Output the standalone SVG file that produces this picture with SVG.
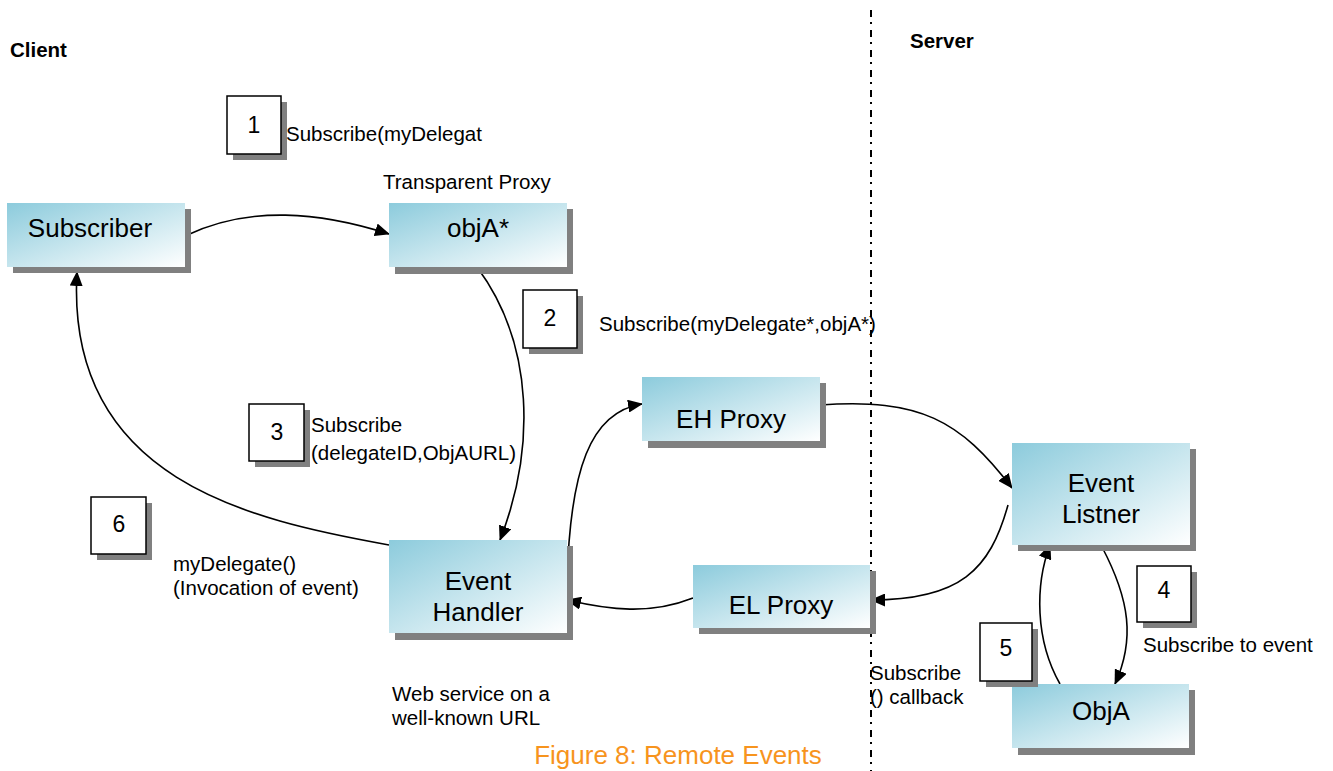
<svg xmlns="http://www.w3.org/2000/svg" width="1333" height="771" viewBox="0 0 1333 771">
<style>
.shadow{fill:#808080}
.node{fill:url(#g)}
.nt{font-family:"Liberation Sans",Arial,sans-serif;font-size:26px;fill:#000;text-anchor:middle}
.lbl{font-family:"Liberation Sans",Arial,sans-serif;font-size:20.5px;fill:#000}
.hdr{font-family:"Liberation Sans",Arial,sans-serif;font-size:20.5px;font-weight:bold;fill:#000}
.num{fill:#fff;stroke:#000;stroke-width:1.5}
.numt{font-family:"Liberation Sans",Arial,sans-serif;font-size:23px;fill:#000;text-anchor:middle}
.conn{fill:none;stroke:#000;stroke-width:1.6;marker-end:url(#arr)}
</style>
<defs>
<linearGradient id="g" x1="0" y1="0" x2="1" y2="1">
<stop offset="0" stop-color="#8ccbdc"/>
<stop offset="1" stop-color="#ffffff"/>
</linearGradient>
<marker id="arr" viewBox="0 0 15 13" refX="14" refY="6.5" markerWidth="15" markerHeight="13" markerUnits="userSpaceOnUse" orient="auto">
<path d="M0,0 L15,6.5 L0,13 z" fill="#000"/>
</marker>
</defs>
<rect width="1333" height="771" fill="#fff"/>
<line x1="871" y1="10" x2="871" y2="771" stroke="#000" stroke-width="2" stroke-dasharray="7 5 2 6"/>
<text class="hdr" x="10" y="57">Client</text>
<text class="hdr" x="910" y="48">Server</text>
<g id="connectors">
<path class="conn" d="M185,236 C250,205 320,212 389,234"/>
<path class="conn" d="M477,267 C535,345 535,450 500,540"/>
<path class="conn" d="M567,582 C570,470 590,412 642,404"/>
<path class="conn" d="M820,405 C920,398 960,420 1012,488"/>
<path class="conn" d="M1008,505 C990,570 960,600 871,600"/>
<path class="conn" d="M693,598 C650,615 610,610 567,600"/>
<path class="conn" d="M389,545 C250,520 65,480 77,272"/>
<path class="conn" d="M1102,547 C1130,600 1135,640 1115,684"/>
<path class="conn" d="M1060,684 C1035,640 1035,585 1050,545"/>
</g>
<g id="subscriber">
<rect class="shadow" x="13" y="209" width="178" height="64"/>
<rect class="node" x="7" y="203" width="178" height="64"/>
<text class="nt" x="90" y="237">Subscriber</text>
</g>
<g id="objAproxy">
<rect class="shadow" x="395" y="209" width="178" height="65"/>
<rect class="node" x="389" y="203" width="178" height="64"/>
<text class="nt" x="478" y="237">objA*</text>
</g>
<g id="ehproxy">
<rect class="shadow" x="648" y="383" width="178" height="65"/>
<rect class="node" x="642" y="377" width="178" height="64"/>
<text class="nt" x="731" y="428">EH Proxy</text>
</g>
<g id="eventhandler">
<rect class="shadow" x="395" y="546" width="178" height="94"/>
<rect class="node" x="389" y="540" width="178" height="93"/>
<text class="nt" x="478" y="590">Event</text>
<text class="nt" x="478" y="621">Handler</text>
</g>
<g id="elproxy">
<rect class="shadow" x="699" y="571" width="177" height="63"/>
<rect class="node" x="693" y="565" width="177" height="63"/>
<text class="nt" x="781" y="614">EL Proxy</text>
</g>
<g id="eventlistner">
<rect class="shadow" x="1018" y="449" width="178" height="102"/>
<rect class="node" x="1012" y="443" width="178" height="102"/>
<text class="nt" x="1101" y="492">Event</text>
<text class="nt" x="1101" y="523">Listner</text>
</g>
<g id="objA">
<rect class="shadow" x="1018" y="690" width="177" height="65"/>
<rect class="node" x="1012" y="684" width="177" height="64"/>
<text class="nt" x="1101" y="720">ObjA</text>
</g>
<g id="step1">
<rect class="shadow" x="233" y="102" width="54" height="58"/>
<rect class="num" x="227" y="96" width="54" height="58"/>
<text class="numt" x="254" y="133">1</text>
</g>
<g id="step2">
<rect class="shadow" x="529" y="296" width="54" height="58"/>
<rect class="num" x="523" y="290" width="54" height="58"/>
<text class="numt" x="550" y="326">2</text>
</g>
<g id="step3">
<rect class="shadow" x="255" y="410" width="55" height="57"/>
<rect class="num" x="249" y="404" width="55" height="57"/>
<text class="numt" x="277" y="440">3</text>
</g>
<g id="step6">
<rect class="shadow" x="97" y="503" width="55" height="57"/>
<rect class="num" x="91" y="497" width="55" height="57"/>
<text class="numt" x="119" y="532">6</text>
</g>
<g id="step4">
<rect class="shadow" x="1143" y="572" width="54" height="56"/>
<rect class="num" x="1137" y="566" width="54" height="56"/>
<text class="numt" x="1164" y="598">4</text>
</g>
<g id="step5">
<rect class="shadow" x="986" y="629" width="52" height="58"/>
<rect class="num" x="980" y="623" width="52" height="58"/>
<text class="numt" x="1006" y="656">5</text>
</g>
<text class="lbl" x="286" y="141">Subscribe(myDelegat</text>
<text class="lbl" x="383" y="189">Transparent Proxy</text>
<text class="lbl" x="599" y="331">Subscribe(myDelegate*,objA*)</text>
<text class="lbl" x="311" y="432">Subscribe</text>
<text class="lbl" x="311" y="460">(delegateID,ObjAURL)</text>
<text class="lbl" x="173" y="571">myDelegate()</text>
<text class="lbl" x="173" y="595">(Invocation of event)</text>
<text class="lbl" x="392" y="701">Web service on a</text>
<text class="lbl" x="392" y="725">well-known URL</text>
<text class="lbl" x="870" y="680">Subscribe</text>
<text class="lbl" x="870" y="704">() callback</text>
<text class="lbl" x="1143" y="652">Subscribe to event</text>
<text x="678" y="764" font-family="Liberation Sans,Arial,sans-serif" font-size="26" fill="#f7941d" text-anchor="middle">Figure 8: Remote Events</text>
</svg>
